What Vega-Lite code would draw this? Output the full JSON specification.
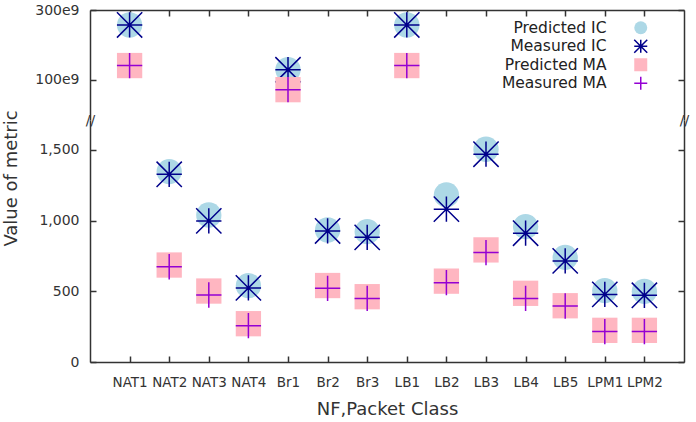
{
  "$schema": "https://vega.github.io/schema/vega-lite/v6.json",
  "padding": {"left": 2, "top": 3, "right": 12, "bottom": 4},
  "background": "white",
  "bounds": "flush",
  "config": {
    "font": "DejaVu Sans",
    "view": {"stroke": null},
    "axis": {
      "domainColor": "#333", "domainWidth": 1.5,
      "tickColor": "#333", "tickWidth": 1.5, "tickSize": -6,
      "labelColor": "#333", "titleColor": "#333", "grid": false,
      "titleFontWeight": "normal"
    },
    "legend": {"labelColor": "#222", "labelFontSize": 15.5, "symbolSize": 169, "symbolStrokeWidth": 1.5}
  },
  "data": {
    "values": [
      {"nf": "NAT1", "series": "Predicted IC", "value": 237e9},
      {"nf": "NAT2", "series": "Predicted IC", "value": 1347},
      {"nf": "NAT3", "series": "Predicted IC", "value": 1040},
      {"nf": "NAT4", "series": "Predicted IC", "value": 540},
      {"nf": "Br1", "series": "Predicted IC", "value": 117e9},
      {"nf": "Br2", "series": "Predicted IC", "value": 934},
      {"nf": "Br3", "series": "Predicted IC", "value": 922},
      {"nf": "LB1", "series": "Predicted IC", "value": 237e9},
      {"nf": "LB2", "series": "Predicted IC", "value": 1182},
      {"nf": "LB3", "series": "Predicted IC", "value": 1505},
      {"nf": "LB4", "series": "Predicted IC", "value": 958},
      {"nf": "LB5", "series": "Predicted IC", "value": 740},
      {"nf": "LPM1", "series": "Predicted IC", "value": 505},
      {"nf": "LPM2", "series": "Predicted IC", "value": 500},
      {"nf": "NAT1", "series": "Measured IC", "value": 237e9},
      {"nf": "NAT2", "series": "Measured IC", "value": 1328},
      {"nf": "NAT3", "series": "Measured IC", "value": 998},
      {"nf": "NAT4", "series": "Measured IC", "value": 524},
      {"nf": "Br1", "series": "Measured IC", "value": 117e9},
      {"nf": "Br2", "series": "Measured IC", "value": 927},
      {"nf": "Br3", "series": "Measured IC", "value": 882},
      {"nf": "LB1", "series": "Measured IC", "value": 237e9},
      {"nf": "LB2", "series": "Measured IC", "value": 1081},
      {"nf": "LB3", "series": "Measured IC", "value": 1470},
      {"nf": "LB4", "series": "Measured IC", "value": 911},
      {"nf": "LB5", "series": "Measured IC", "value": 715},
      {"nf": "LPM1", "series": "Measured IC", "value": 478},
      {"nf": "LPM2", "series": "Measured IC", "value": 472},
      {"nf": "NAT1", "series": "Predicted MA", "value": 125e9},
      {"nf": "NAT2", "series": "Predicted MA", "value": 686},
      {"nf": "NAT3", "series": "Predicted MA", "value": 502},
      {"nf": "NAT4", "series": "Predicted MA", "value": 271},
      {"nf": "Br1", "series": "Predicted MA", "value": 85.5e9},
      {"nf": "Br2", "series": "Predicted MA", "value": 541},
      {"nf": "Br3", "series": "Predicted MA", "value": 462},
      {"nf": "LB1", "series": "Predicted MA", "value": 125e9},
      {"nf": "LB2", "series": "Predicted MA", "value": 572},
      {"nf": "LB3", "series": "Predicted MA", "value": 793},
      {"nf": "LB4", "series": "Predicted MA", "value": 486},
      {"nf": "LB5", "series": "Predicted MA", "value": 398},
      {"nf": "LPM1", "series": "Predicted MA", "value": 224},
      {"nf": "LPM2", "series": "Predicted MA", "value": 224},
      {"nf": "NAT1", "series": "Measured MA", "value": 125e9},
      {"nf": "NAT2", "series": "Measured MA", "value": 674},
      {"nf": "NAT3", "series": "Measured MA", "value": 474},
      {"nf": "NAT4", "series": "Measured MA", "value": 257},
      {"nf": "Br1", "series": "Measured MA", "value": 85.5e9},
      {"nf": "Br2", "series": "Measured MA", "value": 521},
      {"nf": "Br3", "series": "Measured MA", "value": 450},
      {"nf": "LB1", "series": "Measured MA", "value": 125e9},
      {"nf": "LB2", "series": "Measured MA", "value": 561},
      {"nf": "LB3", "series": "Measured MA", "value": 774},
      {"nf": "LB4", "series": "Measured MA", "value": 450},
      {"nf": "LB5", "series": "Measured MA", "value": 396},
      {"nf": "LPM1", "series": "Measured MA", "value": 215},
      {"nf": "LPM2", "series": "Measured MA", "value": 215}
    ]
  },
  "spacing": 0,
  "vconcat": [
    {
      "width": 594,
      "height": 110,
      "transform": [{"filter": "datum.value > 1000000"}],
      "layer": [
        {
          "mark": {"type": "point", "filled": true, "opacity": 1, "strokeWidth": 1.5, "size": 640},
          "encoding": {
            "x": {"field": "nf", "type": "nominal",
              "scale": {"type": "point", "padding": 1, "domain": ["NAT1","NAT2","NAT3","NAT4","Br1","Br2","Br3","LB1","LB2","LB3","LB4","LB5","LPM1","LPM2"]},
              "axis": {"orient": "top", "labels": false, "title": null}},
            "y": {"field": "value", "type": "quantitative",
              "scale": {"type": "log", "domain": [53e9, 300e9], "nice": false},
              "axis": {"values": [100e9, 300e9], "labelExpr": "round(datum.value/1e9) + 'e9'", "title": null, "labelPadding": 17, "labelFontSize": 14}},
            "fill": {"field": "series", "type": "nominal", "title": null,
              "scale": {"domain": ["Predicted IC","Measured IC","Predicted MA","Measured MA"], "range": ["#add8e6","transparent","#ffb6c1","transparent"]},
              "legend": {"orient": "none", "legendX": 393, "legendY": 10, "labelAlign": "right", "labelOffset": -42, "symbolOffset": 150, "rowPadding": -1.5}},
            "stroke": {"field": "series", "type": "nominal", "title": null,
              "scale": {"domain": ["Predicted IC","Measured IC","Predicted MA","Measured MA"], "range": ["transparent","#00008b","transparent","#9400d3"]}},
            "shape": {"field": "series", "type": "nominal", "title": null,
              "scale": {"domain": ["Predicted IC","Measured IC","Predicted MA","Measured MA"], "range": ["circle","M-1,0L1,0M0,-1L0,1M-1,-1L1,1M-1,1L1,-1","square","M-1,0L1,0M0,-1L0,1"]}}
          }
        },
        {
          "mark": {"type": "point", "opacity": 0},
          "encoding": {
            "x": {"field": "nf", "type": "nominal",
              "scale": {"type": "point", "padding": 1, "domain": ["NAT1","NAT2","NAT3","NAT4","Br1","Br2","Br3","LB1","LB2","LB3","LB4","LB5","LPM1","LPM2"]},
              "axis": {"orient": "top", "labels": false, "title": null}},
            "y": {"field": "value", "type": "quantitative",
              "scale": {"type": "log", "domain": [53e9, 300e9], "nice": false},
              "axis": {"orient": "right", "values": [100e9, 300e9], "labels": false, "title": null}}
          }
        }
      ],
      "resolve": {"axis": {"y": "independent"}}
    },
    {
      "width": 594,
      "height": 242,
      "transform": [{"filter": "datum.value < 1000000"}],
      "layer": [
        {
          "mark": {"type": "point", "filled": true, "opacity": 1, "strokeWidth": 1.5, "size": 640},
          "encoding": {
            "x": {"field": "nf", "type": "nominal",
              "scale": {"type": "point", "padding": 1, "domain": ["NAT1","NAT2","NAT3","NAT4","Br1","Br2","Br3","LB1","LB2","LB3","LB4","LB5","LPM1","LPM2"]},
              "axis": {"orient": "bottom", "title": "NF,Packet Class", "labelAngle": 0, "labelFontSize": 13.5, "labelPadding": 19, "titleFontSize": 18, "titlePadding": 12}},
            "y": {"field": "value", "type": "quantitative",
              "scale": {"domain": [0, 1712], "nice": false, "zero": true},
              "axis": {"values": [0, 500, 1000, 1500, 1712],
                "labelExpr": "datum.value > 1700 ? '//' : format(datum.value, ',')",
                "title": "Value of metric", "titleFontSize": 18, "titleY": 58, "titleX": -70,
                "labelFontSize": 14,
                "labelAlign": {"condition": {"test": "datum.value > 1700", "value": "center"}, "value": "right"},
                "labelPadding": {"condition": {"test": "datum.value > 1700", "value": 6}, "value": 17},
                "tickOpacity": {"condition": {"test": "datum.value > 1700", "value": 0}, "value": 1}}},
            "fill": {"field": "series", "type": "nominal", "title": null,
              "scale": {"domain": ["Predicted IC","Measured IC","Predicted MA","Measured MA"], "range": ["#add8e6","transparent","#ffb6c1","transparent"]}},
            "stroke": {"field": "series", "type": "nominal", "title": null,
              "scale": {"domain": ["Predicted IC","Measured IC","Predicted MA","Measured MA"], "range": ["transparent","#00008b","transparent","#9400d3"]}},
            "shape": {"field": "series", "type": "nominal", "title": null,
              "scale": {"domain": ["Predicted IC","Measured IC","Predicted MA","Measured MA"], "range": ["circle","M-1,0L1,0M0,-1L0,1M-1,-1L1,1M-1,1L1,-1","square","M-1,0L1,0M0,-1L0,1"]}}
          }
        },
        {
          "mark": {"type": "point", "opacity": 0},
          "encoding": {
            "x": {"field": "nf", "type": "nominal",
              "scale": {"type": "point", "padding": 1, "domain": ["NAT1","NAT2","NAT3","NAT4","Br1","Br2","Br3","LB1","LB2","LB3","LB4","LB5","LPM1","LPM2"]},
              "axis": {"orient": "bottom", "title": "NF,Packet Class", "labelAngle": 0, "labelFontSize": 13.5, "labelPadding": 19, "titleFontSize": 18, "titlePadding": 12}},
            "y": {"field": "value", "type": "quantitative",
              "scale": {"domain": [0, 1712], "nice": false, "zero": true},
              "axis": {"orient": "right", "values": [0, 500, 1000, 1500, 1712], "title": null,
                "labelExpr": "datum.value > 1700 ? '//' : ''",
                "labelFontSize": 14, "labelColor": "#333",
                "labelAlign": {"condition": {"test": "datum.value > 1700", "value": "center"}, "value": "left"},
                "labelPadding": 6,
                "tickOpacity": {"condition": {"test": "datum.value > 1700", "value": 0}, "value": 1}}}
          }
        }
      ],
      "resolve": {"axis": {"y": "independent"}}
    }
  ]
}
